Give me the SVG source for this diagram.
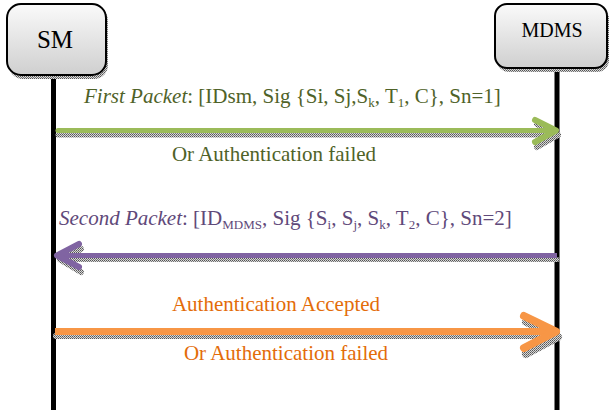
<svg xmlns="http://www.w3.org/2000/svg" width="609" height="410" viewBox="0 0 609 410">
<defs>
<linearGradient id="boxg" x1="0" y1="0" x2="0" y2="1">
<stop offset="0" stop-color="#fafafa"/>
<stop offset="1" stop-color="#cfcfcf"/>
</linearGradient>
<pattern id="shd" width="2" height="2" patternUnits="userSpaceOnUse">
<rect width="2" height="2" fill="#d8d8d8"/>
<rect width="1" height="1" fill="#555"/>
<rect x="1" y="1" width="1" height="1" fill="#777"/>
</pattern>
</defs>
<style>
.box{fill:url(#boxg);stroke:#000;stroke-width:2}
.bshadow{fill:url(#shd)}
.life{stroke:#000;stroke-width:5}
.g{fill:#4F6228}.p{fill:#5F497A}.o{fill:#E36C09}
.gl{stroke:#9BBB59}.pl{stroke:#8064A2}.ol{stroke:#F79646}
.arr{fill:none;stroke-linecap:round;stroke-linejoin:round}
.sh{fill:none;stroke:url(#shd);stroke-linecap:round;stroke-linejoin:round}
.sub{font-size:13px}
</style>
<g id="lifelines">
<line class="life" x1="53.5" y1="76" x2="53.5" y2="410"/>
<line class="life" x1="557" y1="68" x2="557" y2="410"/>
</g>
<g font-family="'Liberation Serif', 'DejaVu Serif', serif" font-size="21">
<g id="SM">
<rect class="bshadow" x="9" y="7" width="99" height="72" rx="14"/>
<rect class="box" x="7" y="4" width="99" height="71" rx="14"/>
<text x="55" y="47.5" text-anchor="middle" font-size="25">SM</text>
</g>
<g id="MDMS">
<rect class="bshadow" x="497" y="7" width="112" height="65" rx="12"/>
<rect class="box" x="495" y="4" width="112" height="64" rx="12"/>
<text x="552" y="37" text-anchor="middle" font-size="20">MDMS</text>
</g>
<g id="connectors">
<polyline class="sh" stroke-width="5" points="58,135 553,135"/>
<polyline class="sh" stroke-width="6" points="537,124 558,135 537,147"/>
<line class="arr gl" stroke-width="5" x1="58" y1="130.5" x2="553" y2="130.5"/>
<polyline class="arr gl" stroke-width="6" points="535,120 556,130.5 535,142"/>
<polyline class="sh" stroke-width="5" points="60,259.5 557,259.5"/>
<polyline class="sh" stroke-width="6" points="81,249 60,259.5 81,272"/>
<line class="arr pl" stroke-width="5" x1="59" y1="255.5" x2="557" y2="255.5" style="stroke-linecap:butt"/>
<polyline class="arr pl" stroke-width="6" points="79,244 57,255.5 79,267"/>
<polyline class="sh" stroke-width="6" points="56,336 552,336"/>
<polyline class="sh" stroke-width="8" points="526,322 558,337 526,354"/>
<line class="arr ol" stroke-width="7" x1="55" y1="331.5" x2="552" y2="331.5" style="stroke-linecap:butt"/>
<polyline class="arr ol" stroke-width="8" points="524,316 556,331.5 524,348"/>
</g>
<g id="labels">
<text class="g" x="84" y="103"><tspan font-style="italic">First Packet</tspan>: [IDsm, Sig {Si, Sj,S<tspan class="sub" dy="4">k</tspan><tspan dy="-4">, T</tspan><tspan class="sub" dy="4">1</tspan><tspan dy="-4">, C}, Sn=1]</tspan></text>
<text class="g" x="274" y="161" text-anchor="middle">Or Authentication failed</text>
<text class="p" x="59" y="225"><tspan font-style="italic">Second Packet</tspan>: [ID<tspan class="sub" dy="4">MDMS</tspan><tspan dy="-4">, Sig {S</tspan><tspan class="sub" dy="4">i</tspan><tspan dy="-4">, S</tspan><tspan class="sub" dy="4">j</tspan><tspan dy="-4">, S</tspan><tspan class="sub" dy="4">k</tspan><tspan dy="-4">, T</tspan><tspan class="sub" dy="4">2</tspan><tspan dy="-4">, C}, Sn=2]</tspan></text>
<text class="o" x="276" y="311" text-anchor="middle">Authentication Accepted</text>
<text class="o" x="286" y="360" text-anchor="middle">Or Authentication failed</text>
</g>
</g>
</svg>
